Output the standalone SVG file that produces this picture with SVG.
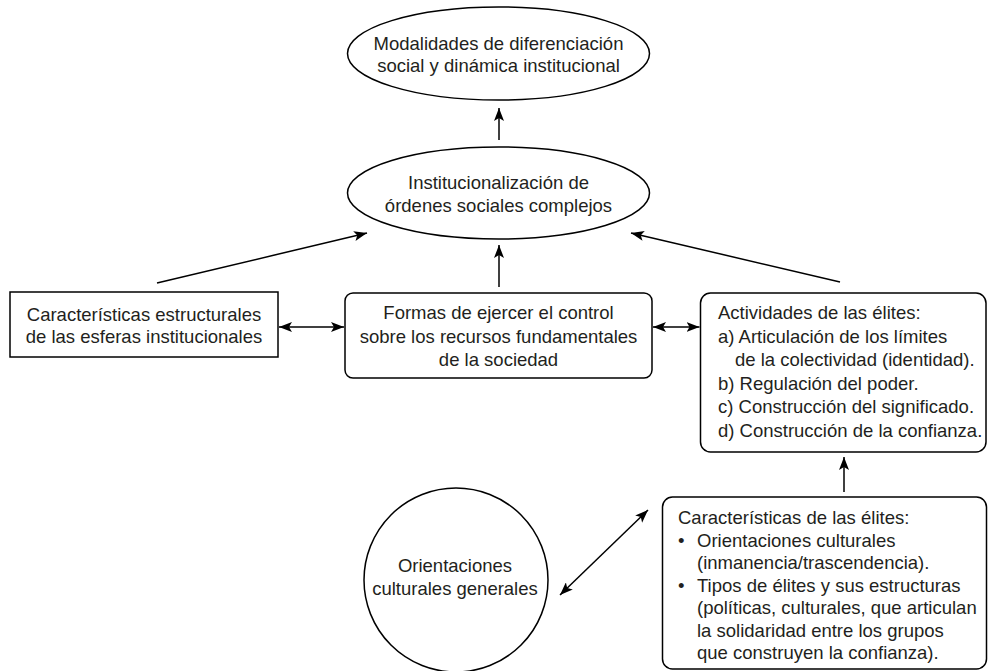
<svg xmlns="http://www.w3.org/2000/svg" width="988" height="671" viewBox="0 0 988 671">
<defs>
<style>
.s{fill:#fff;stroke:#000;stroke-width:1.5}
.t{font-family:"Liberation Sans",Arial,sans-serif;font-size:18.5px;fill:#231f20}
.m{text-anchor:middle}
.c{fill:none;stroke:#000;stroke-width:1.5}
</style>
<marker id="ah" markerWidth="14" markerHeight="12" refX="13" refY="5" orient="auto" markerUnits="userSpaceOnUse">
<path d="M0,0 L13,5 L0,10 L3,5 z" fill="#000"/>
</marker>
<marker id="as" markerWidth="14" markerHeight="12" refX="0" refY="5" orient="auto" markerUnits="userSpaceOnUse">
<path d="M13,0 L0,5 L13,10 L10,5 z" fill="#000"/>
</marker>
</defs>
<g id="n1">
<ellipse class="s" cx="498.5" cy="53.5" rx="151" ry="46.5"/>
<text class="t m" x="498.5" y="49.5">Modalidades de diferenciación</text>
<text class="t m" x="498.5" y="72">social y dinámica institucional</text>
</g>
<g id="n2">
<ellipse class="s" cx="498.5" cy="193" rx="151" ry="46"/>
<text class="t m" x="498.5" y="189">Institucionalización de</text>
<text class="t m" x="498.5" y="211.5">órdenes sociales complejos</text>
</g>
<g id="n3">
<rect class="s" x="10" y="292" width="268" height="65"/>
<text class="t m" x="144" y="321">Características estructurales</text>
<text class="t m" x="144" y="343">de las esferas institucionales</text>
</g>
<g id="n4">
<rect class="s" x="345" y="293" width="307" height="85" rx="8"/>
<text class="t m" x="498.5" y="319">Formas de ejercer el control</text>
<text class="t m" x="498.5" y="342.5">sobre los recursos fundamentales</text>
<text class="t m" x="498.5" y="365.5">de la sociedad</text>
</g>
<g id="n5">
<rect class="s" x="700.5" y="293" width="285.5" height="159" rx="10"/>
<text class="t" x="718" y="319">Actividades de las élites:</text>
<text class="t" x="718" y="342.5">a) Articulación de los límites</text>
<text class="t" x="735" y="366">de la colectividad (identidad).</text>
<text class="t" x="718" y="389.5">b) Regulación del poder.</text>
<text class="t" x="718" y="413">c) Construcción del significado.</text>
<text class="t" x="718" y="436.5">d) Construcción de la confianza.</text>
</g>
<g id="n6">
<circle class="s" cx="456" cy="580" r="92"/>
<text class="t m" x="455" y="572">Orientaciones</text>
<text class="t m" x="455" y="594.5">culturales generales</text>
</g>
<g id="n7">
<rect class="s" x="662.5" y="497" width="324" height="172" rx="10"/>
<text class="t" x="678" y="524">Características de las élites:</text>
<text class="t" x="678" y="546.5">•</text>
<text class="t" x="697" y="546.5">Orientaciones culturales</text>
<text class="t" x="697" y="569">(inmanencia/trascendencia).</text>
<text class="t" x="678" y="591.5">•</text>
<text class="t" x="697" y="591.5">Tipos de élites y sus estructuras</text>
<text class="t" x="697" y="614">(políticas, culturales, que articulan</text>
<text class="t" x="697" y="636.5">la solidaridad entre los grupos</text>
<text class="t" x="697" y="659">que construyen la confianza).</text>
</g>
<g id="connectors">
<line class="c" x1="499" y1="140" x2="499" y2="108" marker-end="url(#ah)"/>
<line class="c" x1="499" y1="287" x2="499" y2="245" marker-end="url(#ah)"/>
<line class="c" x1="157" y1="283" x2="367" y2="233" marker-end="url(#ah)"/>
<line class="c" x1="840" y1="282" x2="631" y2="233" marker-end="url(#ah)"/>
<line class="c" x1="279" y1="327" x2="344" y2="327" marker-start="url(#as)" marker-end="url(#ah)"/>
<line class="c" x1="653" y1="327" x2="699.5" y2="327" marker-start="url(#as)" marker-end="url(#ah)"/>
<line class="c" x1="844" y1="492" x2="844" y2="457" marker-end="url(#ah)"/>
<line class="c" x1="560" y1="595" x2="648" y2="510" marker-start="url(#as)" marker-end="url(#ah)"/>
</g>
</svg>
